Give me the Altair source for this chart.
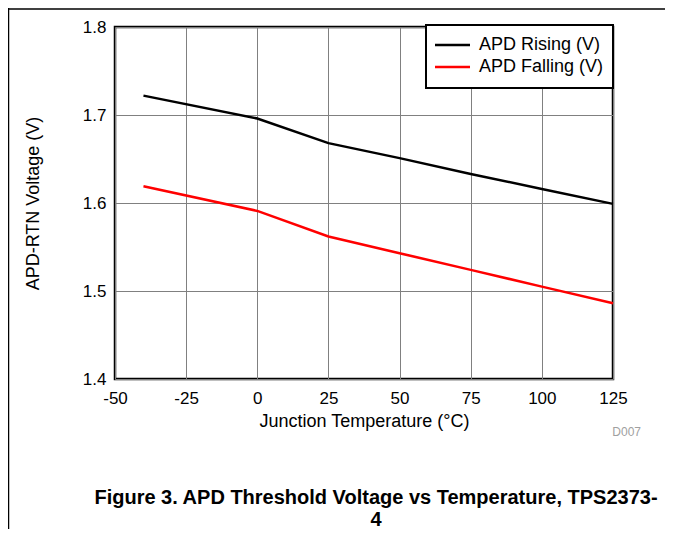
import altair as alt
import pandas as pd

temps = [-40, 0, 25, 50, 75, 100, 125]
rising = [1.722, 1.696, 1.668, 1.651, 1.633, 1.616, 1.599]
falling = [1.619, 1.591, 1.562, 1.543, 1.524, 1.505, 1.486]
series_names = ["APD Rising (V)", "APD Falling (V)"]
series_colors = ["black", "red"]
x_ticks = [-50, -25, 0, 25, 50, 75, 100, 125]
y_ticks = [1.4, 1.5, 1.6, 1.7, 1.8]
x_title = "Junction Temperature (°C)"
y_title = "APD-RTN Voltage (V)"
caption_1 = "Figure 3. APD Threshold Voltage vs Temperature, TPS2373-"
caption_2 = "4"
code_label = "D007"

FONT = "Liberation Sans"

rows = []
for t, r in zip(temps, rising):
    rows.append({"temp": t, "v": r, "series": series_names[0]})
for t, f in zip(temps, falling):
    rows.append({"temp": t, "v": f, "series": series_names[1]})
df = pd.DataFrame(rows)

color_scale = alt.Scale(domain=series_names, range=series_colors)

lines = alt.Chart(df).mark_line(strokeWidth=2.5).encode(
    x=alt.X("temp:Q",
            scale=alt.Scale(domain=[-50, 125], nice=False, zero=False),
            axis=alt.Axis(values=x_ticks, title=x_title, grid=True,
                          labelExpr="'' + datum.value",
                          gridColor="#808080", gridWidth=1, domain=False,
                          ticks=False, labelFontSize=17, labelColor="black",
                          labelFont=FONT, labelPadding=11, labelFlush=False,
                          titleFont=FONT, titleFontSize=18, titleFontWeight="normal",
                          titleColor="black", titleX=249, titleY=42,
                          titleBaseline="middle")),
    y=alt.Y("v:Q",
            scale=alt.Scale(domain=[1.4, 1.8], nice=False, zero=False),
            axis=alt.Axis(values=y_ticks, format=".1f", title=y_title, grid=True,
                          gridColor="#808080", gridWidth=1, domain=False,
                          ticks=False, labelFontSize=17, labelColor="black",
                          labelFont=FONT, labelPadding=9, labelFlush=False,
                          titleFont=FONT, titleFontSize=18, titleFontWeight="normal",
                          titleColor="black", titleX=-82, titleY=176,
                          titleAngle=-90, titleBaseline="middle", titleAlign="center")),
    color=alt.Color("series:N", scale=color_scale, legend=None),
)

# legend
leg_df = pd.DataFrame({"series": series_names, "row": [0, 1]})
leg_box = alt.Chart(leg_df.head(1)).mark_rect(fill="white", stroke="black", strokeWidth=2).encode(
    x=alt.value(311), x2=alt.value(498), y=alt.value(-2), y2=alt.value(61)
)
leg_base = alt.Chart(leg_df).transform_calculate(ly="18 + datum.row * 22")
leg_lines = leg_base.mark_rule(strokeWidth=2.5).encode(
    x=alt.value(320), x2=alt.value(355),
    y=alt.Y("ly:Q", scale=None),
    color=alt.Color("series:N", scale=color_scale, legend=None),
)
leg_text = leg_base.mark_text(align="left", baseline="middle", font=FONT, fontSize=18, color="black").encode(
    x=alt.value(364),
    y=alt.Y("ly:Q", scale=None),
    text="series:N",
)

# captions & code
cap1 = alt.Chart(pd.DataFrame({"t": [caption_1]})).mark_text(
    align="center", baseline="middle", font=FONT, fontSize=20, fontWeight="bold", color="black"
).encode(text="t:N", x=alt.value(261), y=alt.value(471))
cap2 = alt.Chart(pd.DataFrame({"t": [caption_2]})).mark_text(
    align="center", baseline="middle", font=FONT, fontSize=20, fontWeight="bold", color="black"
).encode(text="t:N", x=alt.value(261), y=alt.value(493))
code = alt.Chart(pd.DataFrame({"t": [code_label]})).mark_text(
    align="right", baseline="middle", font=FONT, fontSize=12, color="#a0a0a0"
).encode(text="t:N", x=alt.value(526), y=alt.value(405))

# page frame lines
vline = alt.Chart(leg_df.head(1)).mark_rule(color="black", strokeWidth=1.5).encode(
    x=alt.value(-106.5), y=alt.value(-30), y2=alt.value(520)
)
hline = alt.Chart(leg_df.head(1)).mark_rule(color="black", strokeWidth=1.5).encode(
    x=alt.value(-107), x2=alt.value(600), y=alt.value(-18)
)

chart = alt.layer(lines, leg_box, leg_lines, leg_text, cap1, cap2, code, vline, hline).properties(
    width=498, height=352,
    padding={"left": 107, "top": 19, "right": 52, "bottom": 150},
    autosize=alt.AutoSizeParams(type="none"),
    background="white",
).configure_view(stroke="black", strokeWidth=2.5)

chart.save("out.html", embed_options={"renderer": "svg", "actions": False})
